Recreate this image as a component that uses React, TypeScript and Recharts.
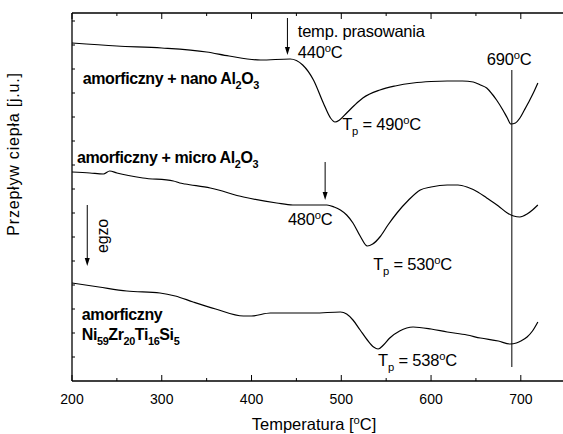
import { Line, LineChart, ReferenceDot, ReferenceLine, XAxis, YAxis } from "recharts";

// temperature [°C] and heat flow (arbitrary units, height above the axis)
const nanoT = [200, 250, 300, 350, 375, 410, 443, 457, 469, 480, 488, 493, 498, 506, 515, 524, 543, 560, 580, 600, 618, 635, 647, 655, 662, 668, 673, 680, 685, 689, 694, 699, 704, 710, 715, 719];
const nanoV = [338, 335, 333, 329, 325, 321, 322, 316, 301, 278, 263, 259, 261, 268, 276, 283, 291, 295, 298, 299.5, 300, 300, 299, 296, 293, 287, 281, 271, 263, 257, 258, 263, 271, 281, 290, 298];

const microT = [200, 220, 235, 242, 250, 279, 313, 320, 326, 354, 391, 428, 446, 484, 492, 499, 506, 513, 521, 529, 535, 543, 552, 562, 575, 588, 600, 618, 630, 640, 652, 662, 675, 685, 692, 699, 707, 713, 719];
const microV = [209, 208, 207, 210, 208, 203, 200, 198, 197, 193, 184, 178, 176, 176, 174, 171, 166, 158, 145, 135, 137, 144, 156, 168, 181, 191, 194, 196, 196, 194, 189, 183, 175, 168, 165, 164, 167, 171, 176];

const amorT = [200, 230, 261, 298, 315, 335, 360, 391, 400, 421, 446, 470, 499, 506, 513, 521, 529, 536, 541, 547, 554, 565, 580, 600, 618, 640, 655, 675, 688, 695, 700, 707, 713, 719];
const amorV = [98, 94, 90, 88, 85, 79, 72, 65, 65, 68, 68, 68, 69, 67, 61, 51, 41, 34, 32, 36, 43, 50, 54, 52, 49, 46, 43, 40, 37, 38, 40, 44, 50, 59];

const xTicks = [200, 250, 300, 350, 400, 450, 500, 550, 600, 650, 700];
const yTicks = Array.from({ length: 30 }, (_, i) => 12 + i * 12);

const toRows = (ts: number[], vs: number[]) => ts.map((t, i) => ({ t, v: vs[i] }));
const nanoData = toRows(nanoT, nanoV);
const microData = toRows(microT, microV);
const amorData = toRows(amorT, amorV);

type Part = [string, ("sub" | "sup")?];

// annotation texts, anchored in data coordinates (t, v)
const notes: { t: number; v: number; parts: Part[]; bold?: boolean; size: number; rotate?: boolean }[] = [
  { t: 212, v: 297, bold: true, size: 16, parts: [["amorficzny + nano Al"], ["2", "sub"], ["O"], ["3", "sub"]] },
  { t: 205.6, v: 218, bold: true, size: 16, parts: [["amorficzny + micro Al"], ["2", "sub"], ["O"], ["3", "sub"]] },
  { t: 211, v: 61, bold: true, size: 16, parts: [["amorficzny"]] },
  { t: 211, v: 41, bold: true, size: 16, parts: [["Ni"], ["59", "sub"], ["Zr"], ["20", "sub"], ["Ti"], ["16", "sub"], ["Si"], ["5", "sub"]] },
  { t: 451.5, v: 344, size: 16.5, parts: [["temp. prasowania"]] },
  { t: 451.5, v: 323, size: 16.5, parts: [["440"], ["o", "sup"], ["C"]] },
  { t: 662, v: 316, size: 16.5, parts: [["690"], ["o", "sup"], ["C"]] },
  { t: 501, v: 251, size: 16.5, parts: [["T"], ["p", "sub"], [" = 490"], ["o", "sup"], ["C"]] },
  { t: 440.5, v: 156, size: 16.5, parts: [["480"], ["o", "sup"], ["C"]] },
  { t: 535.5, v: 111, size: 16.5, parts: [["T"], ["p", "sub"], [" = 530"], ["o", "sup"], ["C"]] },
  { t: 541, v: 15, size: 16.5, parts: [["T"], ["p", "sub"], [" = 538"], ["o", "sup"], ["C"]] },
  { t: 233.5, v: 145, size: 16, rotate: true, parts: [["egzo"]] },
];

const arrows: { t: number; from: number; to: number }[] = [
  { t: 440, from: 363, to: 326 },
  { t: 482, from: 219, to: 181 },
  { t: 217, from: 176, to: 115 },
];

const FONT = "'Liberation Sans', Arial, sans-serif";

function rich(parts: Part[], size: number) {
  let shift = 0;
  return parts.map(([s, k], i) => {
    const target = k === "sub" ? 5 : k === "sup" ? -6 : 0;
    const dy = target - shift;
    shift = target;
    return (
      <tspan key={i} dy={dy} fontSize={k ? size * 0.68 : size}>
        {s}
      </tspan>
    );
  });
}

const BottomTick = ({ x, y, payload }: any) => {
  const major = payload.value % 100 === 0;
  return (
    <g>
      <line x1={x} x2={x} y1={y} y2={y - (major ? 6 : 3)} stroke="#000" />
      {major && (
        <text x={x} y={y + 23} textAnchor="middle" fontSize={14} fontFamily={FONT} fill="#000">
          {payload.value}
        </text>
      )}
    </g>
  );
};

const TopTick = ({ x, y, payload }: any) => {
  const major = payload.value % 100 === 0;
  return <line x1={x} x2={x} y1={y} y2={y + (major ? 6 : 3)} stroke="#000" />;
};

const LeftTick = ({ x, y }: any) => <line x1={x} x2={x + 3} y1={y} y2={y} stroke="#000" />;

const Arrow = (p: any) => {
  const x = p.x1;
  const top = Math.min(p.y1, p.y2);
  const bot = Math.max(p.y1, p.y2);
  return (
    <g>
      <line x1={x} x2={x} y1={top} y2={bot - 4} stroke="#000" strokeWidth={1} />
      <path d={`M${x - 2.5},${bot - 8} L${x + 2.5},${bot - 8} L${x},${bot} Z`} fill="#000" />
    </g>
  );
};

export default function App() {
  return (
    <div style={{ position: "absolute", left: 0, top: 0, background: "#fff" }}>
      <LineChart width={563} height={434} margin={{ top: 0, right: 0, bottom: 0, left: 0 }}>
        <XAxis
          dataKey="t"
          type="number"
          domain={[200, 747]}
          allowDataOverflow
          ticks={xTicks}
          height={53}
          tickSize={0}
          tickMargin={0}
          tickLine={false}
          tick={<BottomTick />}
          axisLine={{ stroke: "#000", strokeWidth: 1.3 }}
          label={{
            content: () => (
              <text x={314} y={430} textAnchor="middle" fontSize={16.5} fontFamily={FONT} fill="#000">
                {rich([["Temperatura ["], ["o", "sup"], ["C]"]], 16.5)}
              </text>
            ),
          }}
        />
        <XAxis
          xAxisId="top"
          orientation="top"
          dataKey="t"
          type="number"
          domain={[200, 747]}
          allowDataOverflow
          ticks={xTicks}
          height={13}
          tickSize={0}
          tickMargin={0}
          tickLine={false}
          tick={<TopTick />}
          axisLine={{ stroke: "#000", strokeWidth: 1.3 }}
        />
        <YAxis
          type="number"
          domain={[0, 368]}
          allowDataOverflow
          ticks={yTicks}
          width={72}
          tickSize={0}
          tickMargin={0}
          tickLine={false}
          tick={<LeftTick />}
          axisLine={{ stroke: "#000", strokeWidth: 1.3 }}
          label={{
            content: () => (
              <text
                x={19}
                y={154}
                transform="rotate(-90 19 154)"
                textAnchor="middle"
                fontSize={16}
                letterSpacing={0.8}
                fontFamily={FONT}
                fill="#000"
              >
                Przepływ ciepła [j.u.]
              </text>
            ),
          }}
        />

        <Line data={nanoData} dataKey="v" type="monotone" stroke="#000" strokeWidth={1.2} dot={false} isAnimationActive={false} />
        <Line data={microData} dataKey="v" type="monotone" stroke="#000" strokeWidth={1.2} dot={false} isAnimationActive={false} />
        <Line data={amorData} dataKey="v" type="monotone" stroke="#000" strokeWidth={1.2} dot={false} isAnimationActive={false} />

        <ReferenceLine
          segment={[
            { x: 690, y: 14 },
            { x: 690, y: 311 },
          ]}
          stroke="#000"
          strokeWidth={1}
        />
        {arrows.map((a, i) => (
          <ReferenceLine
            key={`a${i}`}
            segment={[
              { x: a.t, y: a.from },
              { x: a.t, y: a.to },
            ]}
            shape={Arrow}
          />
        ))}
        {notes.map((n, i) => (
          <ReferenceDot
            key={`n${i}`}
            x={n.t}
            y={n.v}
            r={0}
            shape={(p: any) => (
              <text
                x={p.cx}
                y={p.cy}
                textAnchor={n.rotate ? "middle" : "start"}
                transform={n.rotate ? `rotate(-90 ${p.cx} ${p.cy})` : undefined}
                dominantBaseline={n.rotate ? "central" : undefined}
                fontSize={n.size}
                fontWeight={n.bold ? 700 : 400}
                letterSpacing={n.bold ? -0.4 : -0.2}
                fontFamily={FONT}
                fill="#000"
              >
                {rich(n.parts, n.size)}
              </text>
            )}
          />
        ))}
      </LineChart>
    </div>
  );
}
